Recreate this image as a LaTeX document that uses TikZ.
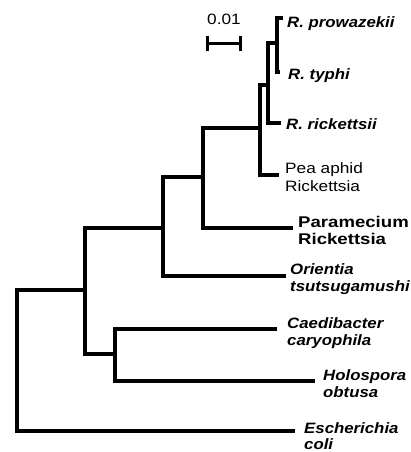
\documentclass[tikz,border=0pt]{standalone}
\usepackage{fontspec}
\setmainfont{Liberation Sans}[FakeStretch=1.15]
\newfontfamily\taxfont{Liberation Sans}[FakeStretch=1.12,
  ItalicFeatures={FakeStretch=1.12},BoldFeatures={FakeStretch=1.2},
  BoldItalicFeatures={FakeStretch=1.12}]
\usetikzlibrary{arrows.meta}
\begin{document}
\begin{tikzpicture}[x=1pt,y=-1pt,
  branch/.style={line width=3.6pt,line join=miter},
  taxon/.style={anchor=north west,inner sep=0pt,yshift=5.8pt,align=left,
    font=\fontsize{15}{17.5}\taxfont\bfseries\itshape},
  taxonup/.style={taxon,font=\fontsize{15}{18.5}\selectfont\upshape},
  taxonbold/.style={taxon,font=\fontsize{15.5}{17}\taxfont\bfseries\upshape},
  scalebar/.style={line width=3pt,{Bar[width=15pt,line width=3pt]}-{Bar[width=15pt,line width=3pt]}}]
\useasboundingbox (0,0) rectangle (410,452);
\coordinate (root) at (17,360);
\coordinate (nA) at (85,290);
\coordinate (nB) at (163,228);
\coordinate (nC) at (115,354);
\coordinate (nD) at (203,177);
\coordinate (nE) at (260,128);
\coordinate (nF) at (268,85);
\coordinate (nG) at (277,43);
\coordinate (tProw) at (283,18);
\coordinate (tTyph) at (280,72);
\coordinate (tRick) at (281,123);
\coordinate (tPea) at (279,175);
\coordinate (tPara) at (293,228);
\coordinate (tOrie) at (286,276);
\coordinate (tCaed) at (277,329);
\coordinate (tHolo) at (315,381);
\coordinate (tEcol) at (295,431);
\draw[branch] (tProw) -| (nG) |- (tTyph);
\draw[branch] (nG) -| (nF) |- (tRick);
\draw[branch] (nF) -| (nE) |- (tPea);
\draw[branch] (nE) -| (nD) |- (tPara);
\draw[branch] (nD) -| (nB) |- (tOrie);
\draw[branch] (nB) -| (nA) |- (nC);
\draw[branch] (tCaed) -| (nC) |- (tHolo);
\draw[branch] (nA) -| (root) |- (tEcol);
\node[taxon] (prow) at (287,22) {R. prowazekii};
\node[taxon] (typh) at (288,74) {R. typhi};
\node[taxon] (rick) at (286,124) {R. rickettsii};
\node[taxonup] (pea) at (285,168) {Pea aphid\\Rickettsia};
\node[taxonbold] (para) at (298,222) {Paramecium\\Rickettsia};
\node[taxon] (orie) at (290,269) {Orientia\\tsutsugamushi};
\node[taxon] (caed) at (287,323) {Caedibacter\\caryophila};
\node[taxon] (holo) at (323,375) {Holospora\\obtusa};
\node[taxon,font=\fontsize{15}{16}\taxfont\bfseries\itshape] (ecol) at (304,428) {Escherichia\\coli};
\coordinate (barL) at (206,44);
\coordinate (barR) at (242,44);
\draw[scalebar] (barL) -- (barR);
\node[taxonup,anchor=center,yshift=0pt] (barlbl) at (224,25) {0.01};
\end{tikzpicture}
\end{document}
